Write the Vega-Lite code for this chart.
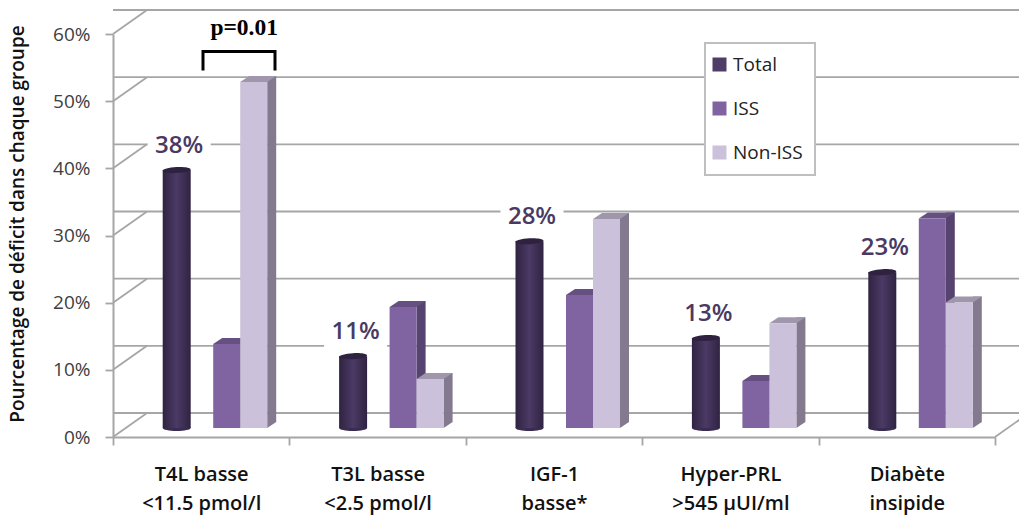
{"$schema":"https://vega.github.io/schema/vega-lite/v6.json","width":882,"height":403,"autosize":{"type":"none"},"padding":{"left":113,"right":24,"top":34,"bottom":78},"background":"white","config":{"legend":{"strokeWidth":2},"view":{"stroke":null}},
"datasets":{
"bars":[
{"cat":"T4L basse|<11.5 pmol/l","series":"Total","value":38.4,"label":"38%"},{"cat":"T4L basse|<11.5 pmol/l","series":"ISS","value":12.5},{"cat":"T4L basse|<11.5 pmol/l","series":"Non-ISS","value":51.5},
{"cat":"T3L basse|<2.5 pmol/l","series":"Total","value":10.7,"label":"11%"},{"cat":"T3L basse|<2.5 pmol/l","series":"ISS","value":18},{"cat":"T3L basse|<2.5 pmol/l","series":"Non-ISS","value":7.3},
{"cat":"IGF-1|basse*","series":"Total","value":27.8,"label":"28%"},{"cat":"IGF-1|basse*","series":"ISS","value":19.8},{"cat":"IGF-1|basse*","series":"Non-ISS","value":31.1},
{"cat":"Hyper-PRL|>545 µUI/ml","series":"Total","value":13.4,"label":"13%"},{"cat":"Hyper-PRL|>545 µUI/ml","series":"ISS","value":7},{"cat":"Hyper-PRL|>545 µUI/ml","series":"Non-ISS","value":15.6},
{"cat":"Diabète|insipide","series":"Total","value":23.2,"label":"23%"},{"cat":"Diabète|insipide","series":"ISS","value":31.2},{"cat":"Diabète|insipide","series":"Non-ISS","value":18.7}],
"grid":[{"v":0},{"v":10},{"v":20},{"v":30},{"v":40},{"v":50},{"v":60}]},
"encoding":{
"x":{"field":"cat","type":"nominal","sort":null,"title":null,"scale":{"domain":["T4L basse|<11.5 pmol/l","T3L basse|<2.5 pmol/l","IGF-1|basse*","Hyper-PRL|>545 µUI/ml","Diabète|insipide"],"paddingInner":0,"paddingOuter":0},"axis":{"labelExpr":"datum.value ? split(datum.value,'|') : ''","labelAngle":0,"tickBand":"extent","tickSize":8,"tickColor":"#a6a6a6","tickWidth":1.8,"domainColor":"#a6a6a6","domainWidth":2,"labelFont":"Open Sans","labelFontSize":20,"labelFontWeight":600,"labelColor":"#111111","labelPadding":29,"labelLineHeight":29,"labelBaseline":"middle","grid":false}},
"y":{"field":"value","type":"quantitative","title":"Pourcentage de déficit dans chaque groupe","scale":{"domain":[0,60],"nice":false}}
},
"layer":[
{"data":{"name":"grid"},"mark":{"type":"rule","color":"#a6a6a6","strokeWidth":1.8,"xOffset":34,"x2Offset":34,"yOffset":-24,"y2Offset":-24,"clip":false},"encoding":{"x":null,"y":{"field":"v","type":"quantitative","scale":{"domain":[0,60],"nice":false},"title":"Pourcentage de déficit dans chaque groupe","axis":{"values":[0,10,20,30,40,50,60],"labelExpr":"datum.value+'%'","grid":false,"domainColor":"#a6a6a6","domainWidth":2,"tickColor":"#a6a6a6","tickWidth":1.8,"tickSize":8,"labelFont":"Open Sans","labelFontSize":19,"labelColor":"#404040","labelPadding":15,"titleFont":"Open Sans","titleFontSize":19,"titleFontWeight":600,"titleColor":"#111111","titleX":-86,"titleY":189.5,"titleAlign":"center"}}}},
{"data":{"name":"grid"},"mark":{"type":"point","filled":false,"stroke":"#a6a6a6","strokeWidth":1.8,"size":2500,"opacity":1,"shape":"M0 0L1.36 -0.96"},"encoding":{"x":{"datum":"T4L basse|<11.5 pmol/l","bandPosition":0},"y":{"field":"v","type":"quantitative","title":"Pourcentage de déficit dans chaque groupe"}}},
{"data":{"values":[{"v":0}]},"mark":{"type":"point","filled":false,"stroke":"#a6a6a6","strokeWidth":1.8,"size":2500,"opacity":1,"shape":"M0 0L1.36 -0.96"},"encoding":{"x":{"datum":"Diabète|insipide","bandPosition":1},"y":{"field":"v","type":"quantitative","title":"Pourcentage de déficit dans chaque groupe"}}},

{"data":{"name":"bars"},"transform":[{"filter":"datum.label"}],"mark":{"type":"point","filled":true,"fill":"white","opacity":1,"strokeWidth":0,"size":2500,"xOffset":-22,"yOffset":-33,"shape":"M-1.26 -0.64H1.26V0.68H-1.26Z"}},

{"data":{"name":"bars"},"transform":[{"filter":"datum.series=='ISS'"}],"mark":{"type":"bar","width":9,"xOffset":43.5,"yOffset":-15,"y2Offset":-15,"fill":"#57436f"}},
{"data":{"name":"bars"},"transform":[{"filter":"datum.series=='ISS'"}],"mark":{"type":"point","filled":true,"fill":"#57436f","opacity":1,"strokeWidth":0,"size":2500,"xOffset":25.5,"yOffset":-9,"shape":"M0.54 0L0.9 -0.24L0.54 -0.24Z"},"encoding":{"y":{"datum":0,"title":"Pourcentage de déficit dans chaque groupe"}}},
{"data":{"name":"bars"},"transform":[{"filter":"datum.series=='ISS'"}],"mark":{"type":"point","filled":true,"fill":"#665081","opacity":1,"strokeWidth":0,"size":2500,"xOffset":25.5,"yOffset":-9,"shape":"M-0.54 0L0.54 0L0.9 -0.24L-0.18 -0.24Z"}},
{"data":{"name":"bars"},"transform":[{"filter":"datum.series=='ISS'"}],"mark":{"type":"bar","width":27,"xOffset":25.5,"yOffset":-9,"y2Offset":-9},"encoding":{"color":{"field":"series","type":"nominal","scale":{"domain":["Total","ISS","Non-ISS"],"range":["#4f3c67","#8064a2","#ccc1da"]},"legend":{"title":null,"orient":"none","legendX":592,"legendY":9,"padding":12,"fillColor":"white","strokeColor":"#bfbfbf","symbolType":"square","symbolSize":196,"symbolStrokeWidth":0,"symbolOffset":-7,"labelFont":"Open Sans","labelFontSize":19,"labelColor":"#222222","rowPadding":24,"labelOffset":4}}}},

{"data":{"name":"bars"},"transform":[{"filter":"datum.series=='Non-ISS'"}],"mark":{"type":"bar","width":9,"xOffset":70.5,"yOffset":-15,"y2Offset":-15,"fill":"#837a90"}},
{"data":{"name":"bars"},"transform":[{"filter":"datum.series=='Non-ISS'"}],"mark":{"type":"point","filled":true,"fill":"#837a90","opacity":1,"strokeWidth":0,"size":2500,"xOffset":52.5,"yOffset":-9,"shape":"M0.54 0L0.9 -0.24L0.54 -0.24Z"},"encoding":{"y":{"datum":0,"title":"Pourcentage de déficit dans chaque groupe"}}},
{"data":{"name":"bars"},"transform":[{"filter":"datum.series=='Non-ISS'"}],"mark":{"type":"point","filled":true,"fill":"#a097ac","opacity":1,"strokeWidth":0,"size":2500,"xOffset":52.5,"yOffset":-9,"shape":"M-0.54 0L0.54 0L0.9 -0.24L-0.18 -0.24Z"}},
{"data":{"name":"bars"},"transform":[{"filter":"datum.series=='Non-ISS'"}],"mark":{"type":"bar","width":27,"xOffset":52.5,"yOffset":-9,"y2Offset":-9},"encoding":{"color":{"field":"series","type":"nominal"}}},

{"data":{"name":"bars"},"transform":[{"filter":"datum.series=='Total'"}],"mark":{"type":"point","filled":true,"fill":"#3a2c50","opacity":1,"strokeWidth":0,"size":2500,"xOffset":-24.5,"yOffset":-9,"shape":"M-0.56 0A0.56 0.12 0 1 0 0.56 0A0.56 0.12 0 1 0 -0.56 0Z"},"encoding":{"y":{"datum":0,"title":"Pourcentage de déficit dans chaque groupe"}}},
{"data":{"name":"bars"},"transform":[{"filter":"datum.series=='Total'"}],"mark":{"type":"bar","width":28,"xOffset":-24.5,"yOffset":-9,"y2Offset":-9,"fill":{"gradient":"linear","x1":0,"y1":0,"x2":1,"y2":0,"stops":[{"offset":0,"color":"#2f2341"},{"offset":0.5,"color":"#4b3a65"},{"offset":1,"color":"#2f2341"}]}}},
{"data":{"name":"bars"},"transform":[{"filter":"datum.series=='Total'"}],"mark":{"type":"point","filled":true,"fill":"#2e2240","opacity":1,"strokeWidth":0,"size":2500,"xOffset":-24.5,"yOffset":-9,"angle":-3,"shape":"M-0.56 0A0.56 0.12 0 1 0 0.56 0A0.56 0.12 0 1 0 -0.56 0Z"}},

{"data":{"name":"bars"},"transform":[{"filter":"datum.label"}],"mark":{"type":"text","font":"Open Sans","fontSize":24,"fontWeight":600,"color":"#4a3a63","align":"center","baseline":"middle","xOffset":-22,"yOffset":-33},"encoding":{"text":{"field":"label"}}},

{"data":{"values":[{"cat":"T4L basse|<11.5 pmol/l","value":57.4}]},"mark":{"type":"point","filled":false,"stroke":"black","strokeWidth":3,"opacity":1,"size":10000,"xOffset":37.8,"shape":"M-0.72 0.38V0H0.72V0.38"}},
{"data":{"values":[{"cat":"T4L basse|<11.5 pmol/l","value":60.9,"note":"p=0.01"}]},"mark":{"type":"text","font":"Liberation Serif","fontSize":23.5,"fontWeight":"bold","color":"black","align":"center","baseline":"middle","xOffset":43},"encoding":{"text":{"field":"note"}}}
]}
